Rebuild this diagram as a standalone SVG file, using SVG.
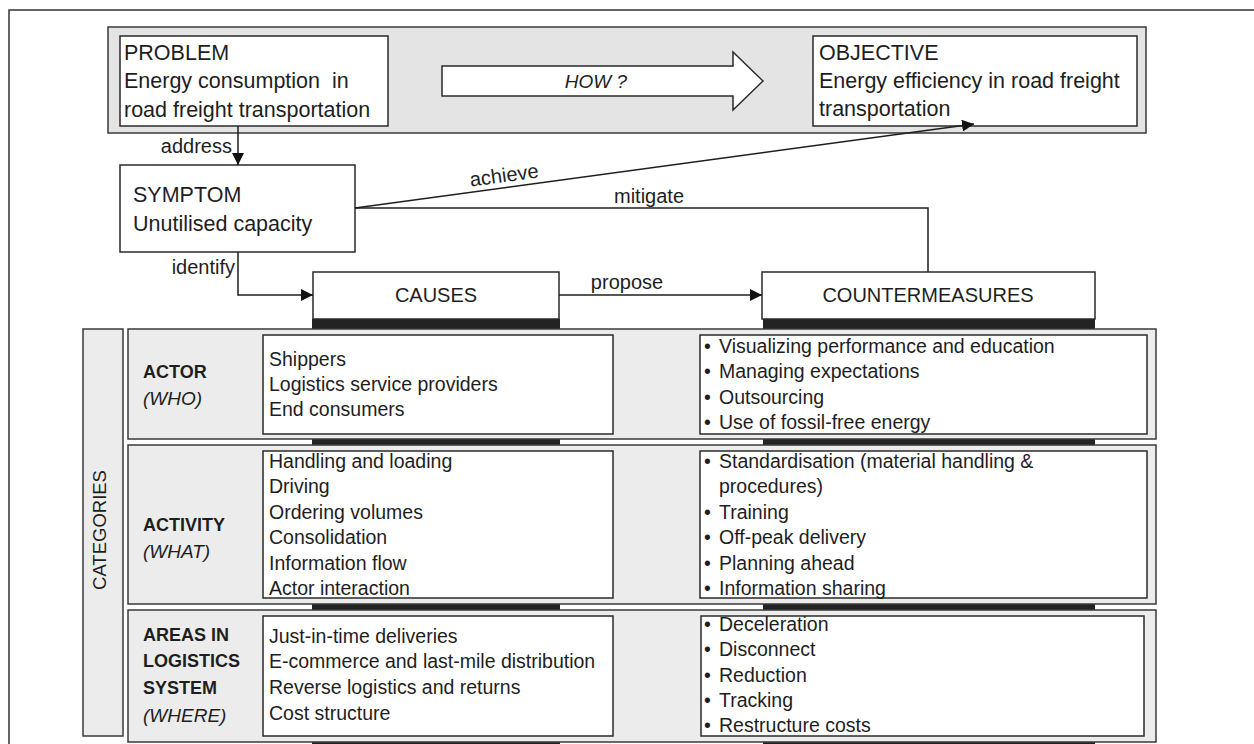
<svg xmlns="http://www.w3.org/2000/svg" width="1254" height="744" viewBox="0 0 1254 744">
  <style>
    text { font-family: "Liberation Sans", Arial, sans-serif; fill: #1e1e1e; }
    .big { font-size: 21.5px; }
    .lbl { font-size: 20px; }
    .head { font-size: 20px; }
    .row { font-size: 19.5px; }
    .cat { font-size: 18px; font-weight: bold; }
    .q { font-size: 19px; font-style: italic; }
    .box { fill: #ffffff; stroke: #2a2a2a; stroke-width: 1.5; }
    .band { fill: #e4e4e4; stroke: #3a3a3a; stroke-width: 1.5; }
    .rowbg { fill: #ececec; stroke: #3a3a3a; stroke-width: 1.5; }
    .col { fill: #232323; }
    .link { fill: none; stroke: #1e1e1e; stroke-width: 1.5; }
  </style>
  <defs>
    <marker id="arrow" viewBox="0 0 12 12" refX="12" refY="6" markerWidth="12" markerHeight="12" markerUnits="userSpaceOnUse" orient="auto">
      <path d="M0,0 L12,6 L0,12 Z" fill="#111111"/>
    </marker>
  </defs>

  <!-- outer frame -->
  <rect x="9" y="10" width="1260" height="750" fill="none" stroke="#333333" stroke-width="1.5"/>

  <!-- top band: problem -> objective -->
  <rect class="band" x="108" y="27" width="1038" height="106"/>

  <g id="problem">
    <rect class="box" x="120" y="36" width="268" height="90"/>
    <text class="big" x="124" y="60">PROBLEM</text>
    <text class="big" x="124" y="88" xml:space="preserve">Energy consumption  in</text>
    <text class="big" x="124" y="117">road freight transportation</text>
  </g>

  <g id="how">
    <polygon points="442,66 733,66 733,52 763,81 733,110 733,96 442,96" fill="#ffffff" stroke="#2a2a2a" stroke-width="1.5"/>
    <text class="q" x="596" y="88" text-anchor="middle">HOW ?</text>
  </g>

  <g id="objective">
    <rect class="box" x="813" y="36" width="324" height="90"/>
    <text class="big" x="819" y="60">OBJECTIVE</text>
    <text class="big" x="819" y="88">Energy efficiency in road freight</text>
    <text class="big" x="819" y="116">transportation</text>
  </g>

  <g id="symptom">
    <rect class="box" x="120" y="165" width="235" height="87"/>
    <text class="big" x="133" y="202">SYMPTOM</text>
    <text class="big" x="133" y="231">Unutilised capacity</text>
  </g>

  <!-- dark columns behind the category rows -->
  <rect class="col" x="312" y="319" width="248" height="430"/>
  <rect class="col" x="763" y="319" width="332" height="430"/>

  <g id="causes">
    <rect class="box" x="313" y="272" width="246" height="47"/>
    <text class="head" x="436" y="302" text-anchor="middle">CAUSES</text>
  </g>

  <g id="countermeasures">
    <rect class="box" x="762" y="272" width="333" height="47"/>
    <text class="head" x="928" y="302" text-anchor="middle">COUNTERMEASURES</text>
  </g>

  <!-- connectors -->
  <g id="connectors">
    <line class="link" x1="238" y1="126" x2="238" y2="165" marker-end="url(#arrow)"/>
    <text class="lbl" x="232" y="153" text-anchor="end">address</text>

    <polyline class="link" points="238,252 238,295 313,295" marker-end="url(#arrow)"/>
    <text class="lbl" x="235" y="274" text-anchor="end">identify</text>

    <line class="link" x1="559" y1="295" x2="762" y2="295" marker-end="url(#arrow)"/>
    <text class="lbl" x="627" y="289" text-anchor="middle">propose</text>

    <line class="link" x1="355" y1="208" x2="974" y2="124" marker-end="url(#arrow)"/>
    <text class="lbl" x="505" y="182" text-anchor="middle" transform="rotate(-7.7 505 182)">achieve</text>

    <polyline class="link" points="355,208 928,208 928,272"/>
    <text class="lbl" x="649" y="203" text-anchor="middle">mitigate</text>
  </g>

  <!-- categories side label -->
  <g id="categories">
    <rect class="rowbg" x="83" y="329" width="40" height="407"/>
    <text x="101" y="530" font-size="18.5" text-anchor="middle" dominant-baseline="middle" transform="rotate(-90 101 530)">CATEGORIES</text>
  </g>

  <!-- row 1: actor -->
  <g id="row-actor">
    <rect class="rowbg" x="128" y="329" width="1028" height="110"/>
    <text class="cat" x="143" y="378">ACTOR</text>
    <text class="q" x="143" y="405">(WHO)</text>
    <rect class="box" x="263" y="335" width="350" height="99"/>
    <text class="row" x="269" y="366">Shippers</text>
    <text class="row" x="269" y="391">Logistics service providers</text>
    <text class="row" x="269" y="416">End consumers</text>
    <rect class="box" x="700" y="335" width="447" height="99"/>
    <text class="row" y="353"><tspan x="704">•</tspan><tspan x="719">Visualizing performance and education</tspan></text>
    <text class="row" y="378"><tspan x="704">•</tspan><tspan x="719">Managing expectations</tspan></text>
    <text class="row" y="404"><tspan x="704">•</tspan><tspan x="719">Outsourcing</tspan></text>
    <text class="row" y="429"><tspan x="704">•</tspan><tspan x="719">Use of fossil-free energy</tspan></text>
  </g>

  <!-- row 2: activity -->
  <g id="row-activity">
    <rect class="rowbg" x="128" y="445" width="1028" height="159"/>
    <text class="cat" x="143" y="531">ACTIVITY</text>
    <text class="q" x="143" y="558">(WHAT)</text>
    <rect class="box" x="263" y="451" width="350" height="147"/>
    <text class="row" x="269" y="468">Handling and loading</text>
    <text class="row" x="269" y="493">Driving</text>
    <text class="row" x="269" y="519">Ordering volumes</text>
    <text class="row" x="269" y="544">Consolidation</text>
    <text class="row" x="269" y="570">Information flow</text>
    <text class="row" x="269" y="595">Actor interaction</text>
    <rect class="box" x="700" y="451" width="447" height="147"/>
    <text class="row" y="468"><tspan x="704">•</tspan><tspan x="719">Standardisation (material handling &amp;</tspan></text>
    <text class="row" x="719" y="493">procedures)</text>
    <text class="row" y="519"><tspan x="704">•</tspan><tspan x="719">Training</tspan></text>
    <text class="row" y="544"><tspan x="704">•</tspan><tspan x="719">Off-peak delivery</tspan></text>
    <text class="row" y="570"><tspan x="704">•</tspan><tspan x="719">Planning ahead</tspan></text>
    <text class="row" y="595"><tspan x="704">•</tspan><tspan x="719">Information sharing</tspan></text>
  </g>

  <!-- row 3: areas in logistics system -->
  <g id="row-areas">
    <rect class="rowbg" x="128" y="610" width="1028" height="132"/>
    <text class="cat" x="143" y="641">AREAS IN</text>
    <text class="cat" x="143" y="667">LOGISTICS</text>
    <text class="cat" x="143" y="694">SYSTEM</text>
    <text class="q" x="143" y="722">(WHERE)</text>
    <rect class="box" x="263" y="616" width="350" height="120"/>
    <text class="row" x="269" y="643">Just-in-time deliveries</text>
    <text class="row" x="269" y="668">E-commerce and last-mile distribution</text>
    <text class="row" x="269" y="694">Reverse logistics and returns</text>
    <text class="row" x="269" y="720">Cost structure</text>
    <rect class="box" x="701" y="616" width="443" height="120"/>
    <text class="row" y="631"><tspan x="704">•</tspan><tspan x="719">Deceleration</tspan></text>
    <text class="row" y="656"><tspan x="704">•</tspan><tspan x="719">Disconnect</tspan></text>
    <text class="row" y="682"><tspan x="704">•</tspan><tspan x="719">Reduction</tspan></text>
    <text class="row" y="707"><tspan x="704">•</tspan><tspan x="719">Tracking</tspan></text>
    <text class="row" y="732"><tspan x="704">•</tspan><tspan x="719">Restructure costs</tspan></text>
  </g>
</svg>
